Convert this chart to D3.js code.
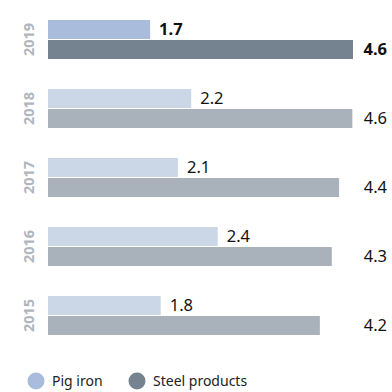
<!DOCTYPE html>
<html>
<head>
<meta charset="utf-8">
<script src="https://cdn.jsdelivr.net/npm/d3@7"></script>
<style>
	body { margin: 0; background: #fff; }
	svg { display: block; font-family: "Noto Sans", "Open Sans", sans-serif; }
</style>
</head>
<body>
<svg id="chart"></svg>
<script>
// data
const years = ["2019", "2018", "2017", "2016", "2015"];
const series = ["Pig iron", "Steel products"];
const pigIron = [1.54, 2.16, 1.96, 2.56, 1.70];       // bar lengths as drawn
const steelProducts = [4.60, 4.59, 4.39, 4.28, 4.10];
const pigIronLabels = ["1.7", "2.2", "2.1", "2.4", "1.8"];
const steelLabels = ["4.6", "4.6", "4.4", "4.3", "4.2"];

const width = 392, height = 392;
const svg = d3.select("#chart").attr("width", width).attr("height", height);

const y = d3.scaleBand().domain(years).range([20, 335]).paddingInner(0.435).paddingOuter(0);
const ySub = d3.scaleBand().domain(series).range([0, y.bandwidth()]).paddingInner(0.05);
const x = d3.scaleLinear().domain([0, 4.6]).range([48, 353]);

// current year is highlighted
const colors = {
	"Pig iron": { hi: "#a9bcdb", lo: "#cbd7e7" },
	"Steel products": { hi: "#74838f", lo: "#a9b1bb" }
};

const rows = years.map((yr, i) => ({
	year: yr,
	hi: i === 0,
	bars: [
		{ key: "Pig iron", value: pigIron[i], label: pigIronLabels[i] },
		{ key: "Steel products", value: steelProducts[i], label: steelLabels[i] }
	]
}));

const groups = svg.selectAll(".year")
	.data(rows)
	.enter()
	.append("g")
	.attr("class", "year")
	.attr("transform", d => `translate(0,${y(d.year)})`);

// year label, rotated
groups.append("text")
	.attr("transform", `translate(34,${y.bandwidth() / 2}) rotate(-90)`)
	.attr("text-anchor", "middle")
	.style("font-size", "14.5px")
	.style("font-weight", "bold")
	.style("fill", "#b0b6bd")
	.text(d => d.year);

groups.selectAll("rect")
	.data(d => d.bars.map(b => ({ ...b, hi: d.hi })))
	.enter()
	.append("rect")
	.attr("x", x(0))
	.attr("y", d => ySub(d.key))
	.attr("width", d => x(d.value) - x(0))
	.attr("height", ySub.bandwidth())
	.style("fill", d => d.hi ? colors[d.key].hi : colors[d.key].lo);

// value labels
groups.selectAll(".val")
	.data(d => d.bars.map(b => ({ ...b, hi: d.hi })))
	.enter()
	.append("text")
	.attr("class", "val")
	.attr("x", d => d.key === "Pig iron" ? x(d.value) + 9 : 387)
	.attr("y", d => ySub(d.key) + ySub.bandwidth() / 2)
	.attr("dy", "0.36em")
	.attr("text-anchor", d => d.key === "Pig iron" ? "start" : "end")
	.style("font-size", "16.5px")
	.style("font-weight", d => d.hi ? "bold" : "normal")
	.style("fill", "#111")
	.text(d => d.label);

// legend
const legend = svg.append("g").attr("transform", "translate(0,381)");
const legendX = [36, 137];
series.forEach((s, i) => {
	legend.append("circle")
		.attr("cx", legendX[i])
		.attr("cy", 0)
		.attr("r", 8.5)
		.style("fill", colors[s].hi);
	legend.append("text")
		.attr("x", legendX[i] + 16)
		.attr("y", 0)
		.attr("dy", "0.35em")
		.style("font-size", "14px")
		.style("fill", "#222")
		.text(s);
});
</script>
</body>
</html>
